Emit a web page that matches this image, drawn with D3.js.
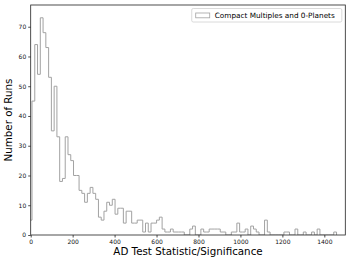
<!DOCTYPE html>
<html>
<head>
<meta charset="utf-8">
<script src="https://cdn.jsdelivr.net/npm/d3@7"></script>
<style>
body { margin: 0; background: #fff; }
text { font-family: "DejaVu Sans", sans-serif; }
</style>
</head>
<body>
<svg id="chart" width="352" height="264"></svg>
<script>

// histogram bins (AD statistic units)
var binStart = -7;
var binWidth = 13.2;
var counts = [5, 45, 64, 54, 73, 68, 63, 53, 35, 50,
  33, 18, 19, 33, 27, 25, 20, 20, 15, 14,
  11, 14, 16, 14, 12, 6, 5, 8, 11, 10,
  12, 7, 9, 9, 4, 8, 8, 4, 4, 5,
  5, 1, 4, 1, 4, 4, 5, 6, 2, 1,
  1, 2, 1, 1, 1, 1, 0, 0, 2, 3,
  0, 0, 2, 1, 1, 2, 2, 2, 2, 1,
  1, 0, 0, 1, 1, 4, 1, 1, 2, 0,
  3, 2, 1, 0, 0, 5, 1, 0, 0, 0,
  0, 0, 1, 1, 0, 0, 2, 0, 0, 1,
  0, 0, 1, 0, 2, 0, 0, 0, 0, 0,
  1];

var xTicks = [0, 200, 400, 600, 800, 1000, 1200, 1400];
var yTicks = [0, 10, 20, 30, 40, 50, 60, 70];
var legendLabel = "Compact Multiples and 0-Planets";

var margins = {top: 5, bottom: 29, left: 30.7, right: 6.7};
var width = 352 - margins.left - margins.right;
var height = 264 - margins.top - margins.bottom;

var svg = d3.select("#chart");

var x = d3.scaleLinear().domain([0, 1500]).range([0, width]);
var y = d3.scaleLinear().domain([0, 77.3]).range([height, 0]);

var g = svg.append("g")
  .attr("transform", "translate(" + margins.left + "," + margins.top + ")");

g.append("clipPath").attr("id", "clip")
  .append("rect").attr("width", width).attr("height", height);

// step outline like histtype='step'
var pts = [[binStart, 0]];
for (var i = 0; i < counts.length; i++) {
  pts.push([binStart + i * binWidth, counts[i]]);
}
pts.push([binStart + counts.length * binWidth, 0]);

var line = d3.line()
  .x(function(d){ return x(d[0]); })
  .y(function(d){ return y(d[1]); })
  .curve(d3.curveStepAfter);

g.append("path")
  .attr("clip-path", "url(#clip)")
  .attr("d", line(pts))
  .style("fill", "none")
  .style("stroke", "#a2a2a2")
  .style("stroke-width", "1px");

// axes
var xAxis = d3.axisBottom(x).tickValues(xTicks).tickFormat(d3.format("d")).tickSize(2.5).tickPadding(2);
var yAxis = d3.axisLeft(y).tickValues(yTicks).tickFormat(d3.format("d")).tickSize(2.5).tickPadding(2);

var gx = g.append("g").attr("transform", "translate(0," + height + ")").call(xAxis);
var gy = g.append("g").call(yAxis);

[gx, gy].forEach(function(a){
  a.select(".domain").remove();
  a.selectAll("line").style("stroke", "#222").style("stroke-width", "0.8px");
  a.selectAll("text").style("font-size", "6px").style("fill", "#111")
    .style("font-family", "DejaVu Sans");
});

// frame
g.append("rect")
  .attr("width", width).attr("height", height)
  .style("fill", "none").style("stroke", "#222").style("stroke-width", "0.8px");

// axis labels
svg.append("text")
  .attr("x", margins.left + width / 2)
  .attr("y", 255)
  .attr("text-anchor", "middle")
  .style("font-size", "10.3px")
  .text("AD Test Statistic/Significance");

svg.append("text")
  .attr("transform", "translate(11.5," + (margins.top + height / 2) + ") rotate(-90)")
  .attr("text-anchor", "middle")
  .style("font-size", "10.3px")
  .text("Number of Runs");

// legend
var legend = g.append("g");
var legendText = legend.append("text")
  .attr("y", 12.7)
  .style("font-size", "7.3px")
  .text(legendLabel);
var tw = legendText.node().getComputedTextLength();
var boxW = tw + 30;
var boxX = width - 3.5 - boxW;
legend.append("rect")
  .attr("x", boxX).attr("y", 3.5)
  .attr("width", boxW).attr("height", 13.5)
  .attr("rx", 1.5)
  .style("fill", "#fff").style("stroke", "#d0d0d0").style("stroke-width", "0.8px");
legend.append("rect")
  .attr("x", boxX + 4).attr("y", 8)
  .attr("width", 14).attr("height", 4.8)
  .style("fill", "none").style("stroke", "#a2a2a2").style("stroke-width", "0.8px");
legendText.attr("x", boxX + 23).raise();

</script>
</body>
</html>
